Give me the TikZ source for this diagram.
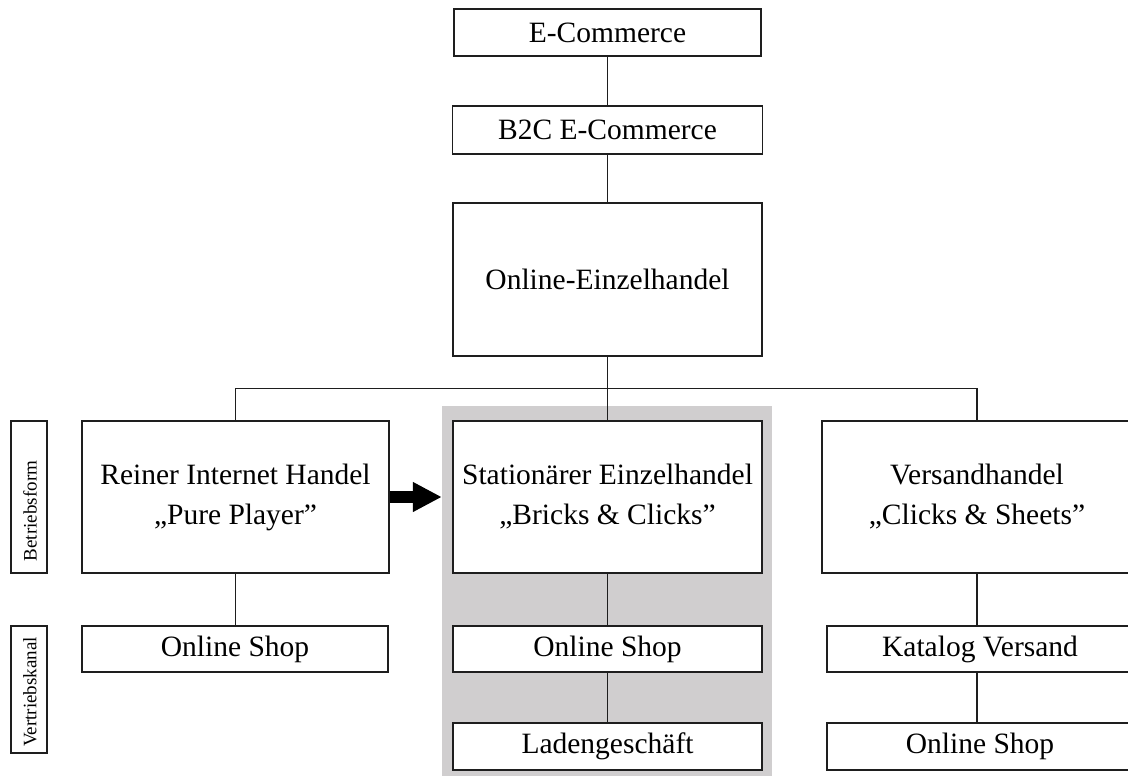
\documentclass[tikz,border=0pt]{standalone}
\usepackage{fontspec}
\setmainfont{Liberation Serif}
\usetikzlibrary{arrows.meta}
\definecolor{shade}{RGB}{208,206,207}
\definecolor{ink}{RGB}{30,30,30}
\begin{document}
\begin{tikzpicture}[x=1pt,y=-1pt,
  box/.style={draw=ink, line width=1.4pt, fill=white, inner sep=0pt, align=center,
    font=\fontsize{29.5}{40}\selectfont},
  tagbox/.style={draw=ink, line width=1.4pt, fill=white, inner sep=0pt, minimum width=36pt},
  tagtext/.style={rotate=90, inner sep=0pt, font=\fontsize{19}{21}\selectfont},
  link/.style={draw=ink, line width=1.2pt}]
\useasboundingbox (0,0) rectangle (1128,776);
% shaded column behind the highlighted business form
\node[fill=shade, minimum width=330pt, minimum height=372pt, inner sep=0pt] (bg) at (607,592) {};
% top of the hierarchy
\node[box, minimum width=307pt, minimum height=47pt] (ec)  at (607.5,32.5) {E-Commerce};
\node[box, minimum width=310pt, minimum height=48pt] (b2c) at (607.5,130) {B2C E-Commerce};
\node[box, minimum width=309pt, minimum height=153pt] (oe) at (607.5,279.5) {Online-Einzelhandel};
% business forms
\node[box, minimum width=307pt, minimum height=152pt] (rein) at (235.5,497) {Reiner Internet Handel\\„Pure Player”};
\node[box, minimum width=309pt, minimum height=152pt] (stat) at (607.5,497) {Stationärer Einzelhandel\\„Bricks \& Clicks”};
\node[box, minimum width=310pt, minimum height=152pt] (vers) at (977,497) {Versandhandel\\„Clicks \& Sheets”};
% sales channels
\node[box, minimum width=306pt, minimum height=46pt] (os1) at (235,649) {Online Shop};
\node[box, minimum width=309pt, minimum height=46pt] (os2) at (607.5,649) {Online Shop};
\node[box, minimum width=309pt, minimum height=47pt] (lad) at (607.5,746.5) {Ladengeschäft};
\node[box, minimum width=306pt, minimum height=46pt] (kat) at (980,649) {Katalog Versand};
\node[box, minimum width=306pt, minimum height=47pt] (os3) at (980,746.5) {Online Shop};
% row labels
\node[tagbox, minimum height=152pt] (bf) at (29,497) {};
\node[tagtext] (bft) at (30,511) {Betriebsform};
\node[tagbox, minimum height=127pt] (vk) at (29,689.5) {};
\node[tagtext] (vkt) at (30,692) {Vertriebskanal};
% connectors
\coordinate (bus) at (607.5,388.5);
\draw[link] (ec) -- (b2c);
\draw[link] (b2c) -- (oe);
\draw[link] (oe) -- (stat);
\draw[link, line width=1.5pt] (rein.north) |- (bus) -| (vers.north);
\draw[link] (rein.south) -- (rein.south |- os1.north);
\draw[link] (stat) -- (os2);
\draw[link] (os2) -- (lad);
\draw[link] (vers.south) -- (vers.south |- kat.north);
\draw[link] (kat.south -| vers.south) -- (vers.south |- os3.north);
% transition arrow
\draw[line width=12pt, -{Triangle[length=29pt,width=28pt]}] (rein.east) -- (bg.west |- rein.east);
\end{tikzpicture}
\end{document}
